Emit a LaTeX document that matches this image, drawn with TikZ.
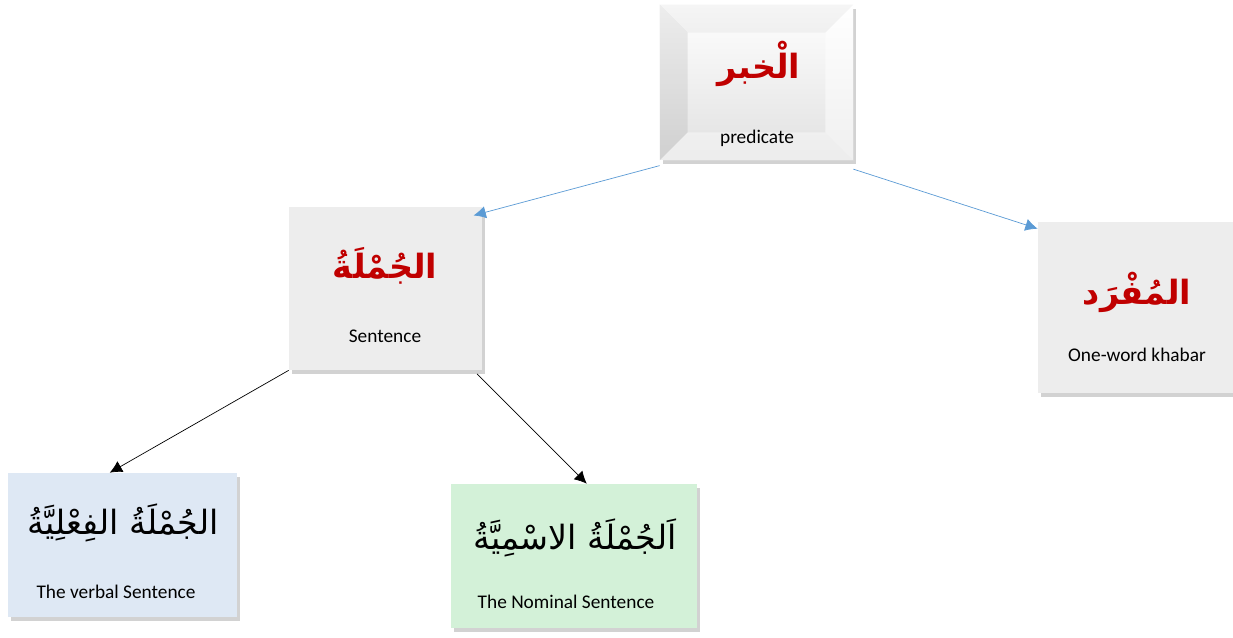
\documentclass[tikz,border=0pt]{standalone}
\usepackage{fontspec}
\setmainfont{Carlito}
\newfontfamily\arabicfont[Script=Arabic]{DejaVu Sans}
\TeXXeTstate=1
\usepackage{tikz}
\usetikzlibrary{arrows.meta}
\usetikzlibrary{shadows}
\usetikzlibrary{calc}

\definecolor{khabarred}{HTML}{C00000}
\definecolor{linkblue}{HTML}{5B9BD5}
\definecolor{boxgray}{HTML}{EDEDED}
\definecolor{verbblue}{HTML}{DEE8F4}
\definecolor{nomgreen}{HTML}{D3F1D8}

\tikzset{
  box/.style={rectangle, draw=none, inner sep=0pt,
    drop shadow={opacity=0.35, shadow xshift=1.5pt, shadow yshift=-2pt}},
  arhead/.style={font=\arabicfont\bfseries\fontsize{19}{23}\selectfont, text=khabarred},
  arbig/.style={font=\arabicfont\fontsize{19}{23}\selectfont},
  entext/.style={font=\fontsize{11}{13}\selectfont},
  bluelink/.style={linkblue, -{Latex[length=7pt,width=7pt]}},
  blacklink/.style={black, -{Latex[length=7pt,width=7pt]}}
}

\begin{document}
\begin{tikzpicture}[x=0.02cm, y=-0.02cm]
        \useasboundingbox[fill=white] (0,0) rectangle (1233,637);
        %
        \node [box, top color=white, bottom color=black!12,
               minimum width=3.86cm, minimum height=3.1cm] (khabar) at (756.5,82.5) {};
        \fill [black, opacity=0.07] (khabar.north west) -- (khabar.south west)
          -- ($(khabar.south west)+(28,-28)$) -- ($(khabar.north west)+(28,28)$) -- cycle;
        \fill [black, opacity=0.04] (khabar.north west) -- (khabar.north east)
          -- ($(khabar.north east)+(-28,28)$) -- ($(khabar.north west)+(28,28)$) -- cycle;
        \fill [white, opacity=0.5] (khabar.north east) -- (khabar.south east)
          -- ($(khabar.south east)+(-28,-28)$) -- ($(khabar.north east)+(-28,28)$) -- cycle;
        \fill [white, opacity=0.4] (khabar.south west) -- (khabar.south east)
          -- ($(khabar.south east)+(-28,-28)$) -- ($(khabar.south west)+(28,-28)$) -- cycle;
        \node [arhead] (khabarAr) at (759,64) {\beginR الْخبر\endR};
        \node [entext] (khabarEn) at (757,138) {predicate};
        %
        \node [box, fill=boxgray, minimum width=3.86cm, minimum height=3.26cm] (jumla) at (385.5,288.5) {};
        \node [arhead] (jumlaAr) at (385,266) {\beginR الجُمْلَةُ\endR};
        \node [entext] (jumlaEn) at (385,336) {Sentence};
        %
        \node [box, fill=boxgray, minimum width=3.9cm, minimum height=3.42cm] (mufrad) at (1135.5,307.5) {};
        \node [arhead] (mufradAr) at (1137,292) {\beginR المُفْرَد\endR};
        \node [entext] (mufradEn) at (1137,355) {One-word khabar};
        %
        \node [box, fill=verbblue, minimum width=4.58cm, minimum height=2.88cm] (fil) at (122.5,545) {};
        \node [arbig] (filAr) at (123,523) {\beginR الجُمْلَةُ الفِعْلِيَّةُ\endR};
        \node [entext] (filEn) at (116,592) {The verbal Sentence};
        %
        \node [box, fill=nomgreen, minimum width=4.92cm, minimum height=2.88cm] (ism) at (574,556) {};
        \node [arbig] (ismAr) at (575,538) {\beginR اَلجُمْلَةُ الاسْمِيَّةُ\endR};
        \node [entext] (ismEn) at (566,602) {The Nominal Sentence};
        %
        \draw [bluelink] ([yshift=-3pt]khabar.south west) -- ([xshift=-5pt,yshift=-5pt]jumla.north east);
        \draw [bluelink] ([yshift=-5pt]khabar.south east) -- ([yshift=-4pt]mufrad.north west);
        \draw [blacklink] (jumla.south west) -- (fil.100);
        \draw [blacklink] ([xshift=-3pt,yshift=-2pt]jumla.south east) -- (ism.80);
      \end{tikzpicture}
\end{document}
